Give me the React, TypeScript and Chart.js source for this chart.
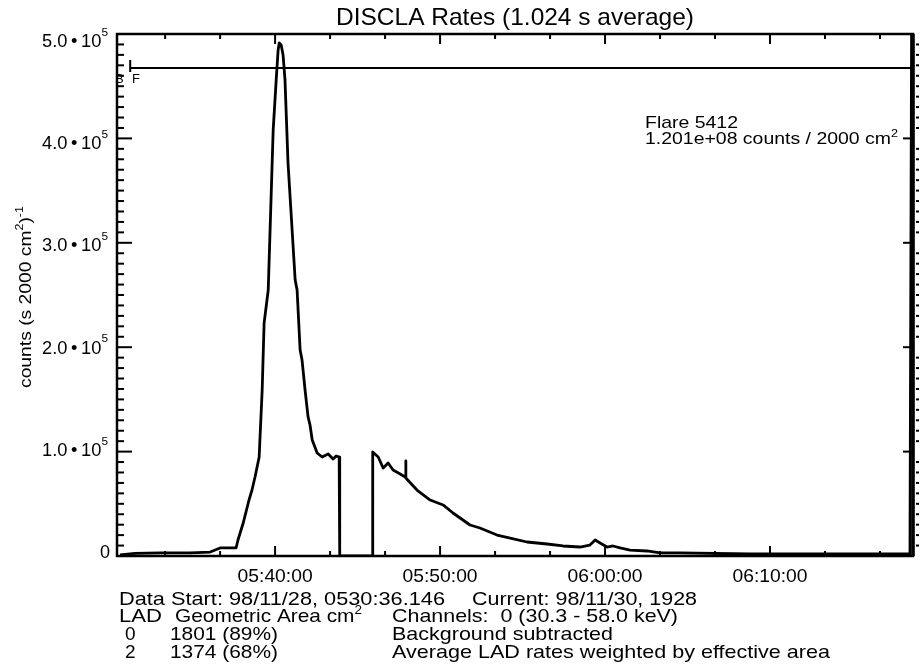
import React, { useEffect, useRef } from "react";
import { Chart, registerables } from "chart.js";

Chart.register(...registerables);

// ---------------- data (seconds of day, counts per s per 2000 cm^2) ----------------
const TITLE = "DISCLA Rates (1.024 s average)";
const X_MIN = 19825; // 05:30:25
const X_MAX = 22720; // 06:18:40
const Y_MIN = 0;
const Y_MAX = 500000;
const X_MAJOR_TICKS = [20400, 21000, 21600, 22200];
const X_TICK_LABELS = ["05:40:00", "05:50:00", "06:00:00", "06:10:00"];
const X_MINOR_STEP = 200;
const Y_MAJOR_TICKS = [0, 100000, 200000, 300000, 400000, 500000];
const Y_TICK_MANTISSA = ["0", "1.0", "2.0", "3.0", "4.0", "5.0"];
const Y_MINOR_STEP = 10000;

const rateTimes = [
  19836, 19891, 19982, 20091, 20164, 20182, 20200, 20258, 20265, 20284,
  20305, 20316, 20327, 20342, 20353, 20360, 20375, 20393, 20404, 20411,
  20415, 20422, 20429, 20436, 20447, 20473, 20480, 20491, 20498, 20509,
  20520, 20527, 20535, 20553, 20571, 20593, 20611, 20622, 20633, 20635,
  20753, 20755, 20775, 20793, 20811, 20829, 20855, 20873, 20875, 20876,
  20916, 20964, 21011, 21047, 21109, 21145, 21207, 21255, 21316, 21389,
  21447, 21509, 21545, 21564, 21582, 21607, 21629, 21655, 21691, 21753,
  21800, 21873, 22127, 22491, 22709, 22716,
];
const rateValues = [
  1000, 2500, 3000, 3000, 3800, 5700, 7700, 7700, 15300, 31600,
  53600, 63200, 75700, 94800, 159000, 223000, 254800, 408000, 456000, 484700,
  491400, 489500, 479900, 456000, 376400, 264400, 254800, 197300, 187700, 159000,
  133100, 125500, 111100, 98700, 94800, 97700, 92900, 95800, 94800, 0,
  0, 99600, 94800, 84300, 89100, 82400, 78500, 75700, 91000, 74700,
  63200, 53600, 48900, 41200, 29700, 26800, 20100, 17200, 13400, 11500,
  9600, 8600, 10500, 15300, 12500, 8600, 9600, 7700, 5700, 4800,
  2900, 2900, 1900, 1900, 1900, 600000,
];

const thresholdTimes = [19873, 19873, 19873, 19873, 22720];
const thresholdValues = [475000, 463500, null, 467400, 467400];

const FLARE_LINE1 = "Flare 5412";
const FLARE_LINE2 = "1.201e+08 counts / 2000 cm";

// ---------------- drawing helpers ----------------
const FAMILY = '"Liberation Sans", Arial, Helvetica, sans-serif';
const font = (s: number) => `${s}px ${FAMILY}`;

type Run = { t: string; sup?: boolean };

function runsWidth(ctx: CanvasRenderingContext2D, runs: Run[], size: number) {
  let w = 0;
  for (const r of runs) {
    ctx.font = font(r.sup ? size * 0.65 : size);
    w += ctx.measureText(r.t).width;
  }
  return w;
}

function drawRuns(
  ctx: CanvasRenderingContext2D,
  runs: Run[],
  x: number,
  y: number,
  size: number,
  targetWidth?: number,
  align: "left" | "center" | "right" = "left",
  raise = 0.42
) {
  const nat = runsWidth(ctx, runs, size);
  const sx = targetWidth ? targetWidth / nat : 1;
  const total = nat * sx;
  const start = align === "center" ? x - total / 2 : align === "right" ? x - total : x;
  ctx.save();
  ctx.translate(start, y);
  ctx.scale(sx, 1);
  ctx.textAlign = "left";
  ctx.textBaseline = "alphabetic";
  let cx = 0;
  for (const r of runs) {
    const s = r.sup ? size * 0.65 : size;
    ctx.font = font(s);
    ctx.fillText(r.t, cx, r.sup ? -size * raise : 0);
    cx += ctx.measureText(r.t).width;
  }
  ctx.restore();
}

function seg(ctx: CanvasRenderingContext2D, x1: number, y1: number, x2: number, y2: number) {
  ctx.beginPath();
  ctx.moveTo(x1, y1);
  ctx.lineTo(x2, y2);
  ctx.stroke();
}

const overlay = {
  id: "overlay",
  beforeDraw(chart: any) {
    const ctx = chart.ctx as CanvasRenderingContext2D;
    ctx.save();
    ctx.fillStyle = "#fff";
    ctx.fillRect(0, 0, chart.width, chart.height);
    ctx.restore();
  },
  afterDraw(chart: any) {
    const ctx = chart.ctx as CanvasRenderingContext2D;
    const a = chart.chartArea;
    const xs = chart.scales.x;
    const ys = chart.scales.y;
    ctx.save();
    ctx.strokeStyle = "#000";
    ctx.fillStyle = "#000";
    ctx.lineCap = "butt";

    // frame
    ctx.lineWidth = 2.5;
    ctx.strokeRect(a.left, a.top, a.right - a.left, a.bottom - a.top);
    ctx.lineWidth = 3.5;
    seg(ctx, a.right, a.top, a.right, a.bottom);

    // x ticks (bottom and top, inward)
    ctx.lineWidth = 2;
    for (let t = Math.ceil(X_MIN / X_MINOR_STEP) * X_MINOR_STEP; t <= X_MAX; t += X_MINOR_STEP) {
      const px = xs.getPixelForValue(t);
      const major = X_MAJOR_TICKS.includes(t);
      const len = major ? 10 : 5;
      seg(ctx, px, a.bottom, px, a.bottom - len);
      seg(ctx, px, a.top, px, a.top + len);
    }

    // y ticks
    for (let v = Y_MIN; v <= Y_MAX; v += Y_MINOR_STEP) {
      const py = ys.getPixelForValue(v);
      const major = v % 100000 === 0;
      seg(ctx, a.left, py, a.left + (major ? 15 : 7), py);
      if (major) seg(ctx, a.right, py, a.right - 10, py);
      else seg(ctx, a.right + 3, py, a.right + 6, py);
    }

    // x tick labels
    X_MAJOR_TICKS.forEach((t, i) => {
      const px = xs.getPixelForValue(t);
      drawRuns(ctx, [{ t: X_TICK_LABELS[i] }], px, a.bottom + 26, 18, 75, "center");
    });

    // y tick labels
    Y_MAJOR_TICKS.forEach((v, i) => {
      const py = ys.getPixelForValue(v);
      const base = py + 2 + (v / Y_MAX) * 11;
      if (v === 0) {
        drawRuns(ctx, [{ t: Y_TICK_MANTISSA[i] }], a.left - 7, base, 18, undefined, "right");
      } else {
        drawRuns(
          ctx,
          [{ t: Y_TICK_MANTISSA[i] }, { t: "\u2009\u2022\u2009" }, { t: "10" }, { t: "5", sup: true }],
          a.left - 9,
          base,
          18,
          66,
          "right",
          0.62
        );
      }
    });

    // title
    drawRuns(ctx, [{ t: TITLE }], (a.left + a.right) / 2, 25, 24, 358, "center");

    // y-axis title (rotated)
    ctx.save();
    ctx.translate(31, (a.top + a.bottom) / 2 + 2);
    ctx.rotate(-Math.PI / 2);
    drawRuns(
      ctx,
      [{ t: "counts (s 2000 cm" }, { t: "2", sup: true }, { t: ")" }, { t: "-1", sup: true }],
      0,
      0,
      16,
      182,
      "center",
      0.5
    );
    ctx.restore();

    // threshold markers
    drawRuns(ctx, [{ t: "B" }], 115, 83, 13);
    drawRuns(ctx, [{ t: "F" }], 132, 83, 13);

    // flare annotation
    drawRuns(ctx, [{ t: FLARE_LINE1 }], 645, 128, 17, 93);
    drawRuns(ctx, [{ t: FLARE_LINE2 }, { t: "2", sup: true }], 645, 144, 17, 253);

    // footer text
    const S = 19;
    drawRuns(ctx, [{ t: "Data Start: 98/11/28, 0530:36.146" }], 119, 605, S, 326);
    drawRuns(ctx, [{ t: "Current: 98/11/30, 1928" }], 472, 605, S, 225);
    drawRuns(ctx, [{ t: "LAD" }], 119, 622, S, 43);
    drawRuns(ctx, [{ t: "Geometric Area cm" }, { t: "2", sup: true }], 175, 622, S, 187);
    drawRuns(ctx, [{ t: "Channels:  0 (30.3 - 58.0 keV)" }], 392, 622, S, 286);
    drawRuns(ctx, [{ t: "0" }], 125, 640, S);
    drawRuns(ctx, [{ t: "1801 (89%)" }], 170, 640, S, 108);
    drawRuns(ctx, [{ t: "Background subtracted" }], 392, 640, S, 221);
    drawRuns(ctx, [{ t: "2" }], 125, 658, S);
    drawRuns(ctx, [{ t: "1374 (68%)" }], 170, 658, S, 108);
    drawRuns(ctx, [{ t: "Average LAD rates weighted by effective area" }], 392, 658, S, 438);

    ctx.restore();
  },
};

export default function App() {
  const ref = useRef<HTMLCanvasElement | null>(null);

  useEffect(() => {
    if (!ref.current) return;
    const rateData = rateTimes.map((t, i) => ({ x: t, y: rateValues[i] }));
    const thrData = thresholdTimes.map((t, i) => ({ x: t, y: thresholdValues[i] }));
    const chart = new Chart(ref.current, {
      type: "line",
      data: {
        datasets: [
          {
            data: rateData as any,
            borderColor: "#000",
            borderWidth: 2.8,
            pointRadius: 0,
            tension: 0,
            fill: false,
            borderJoinStyle: "round",
          },
          {
            data: thrData as any,
            borderColor: "#000",
            borderWidth: 2,
            pointRadius: 0,
            tension: 0,
            fill: false,
            spanGaps: false,
          },
        ],
      },
      options: {
        responsive: false,
        animation: false,
        devicePixelRatio: 1,
        events: [],
        layout: { padding: { left: 117, top: 34, right: 7, bottom: 110 } },
        scales: {
          x: { type: "linear", min: X_MIN, max: X_MAX, display: false },
          y: { type: "linear", min: Y_MIN, max: Y_MAX, display: false },
        },
        plugins: {
          legend: { display: false },
          tooltip: { enabled: false },
          title: { display: false },
        },
      },
      plugins: [overlay as any],
    });
    return () => chart.destroy();
  }, []);

  return (
    <div style={{ position: "absolute", left: 0, top: 0, width: 920, height: 666, background: "#fff" }}>
      <canvas ref={ref} width={920} height={666} style={{ display: "block" }} />
    </div>
  );
}
